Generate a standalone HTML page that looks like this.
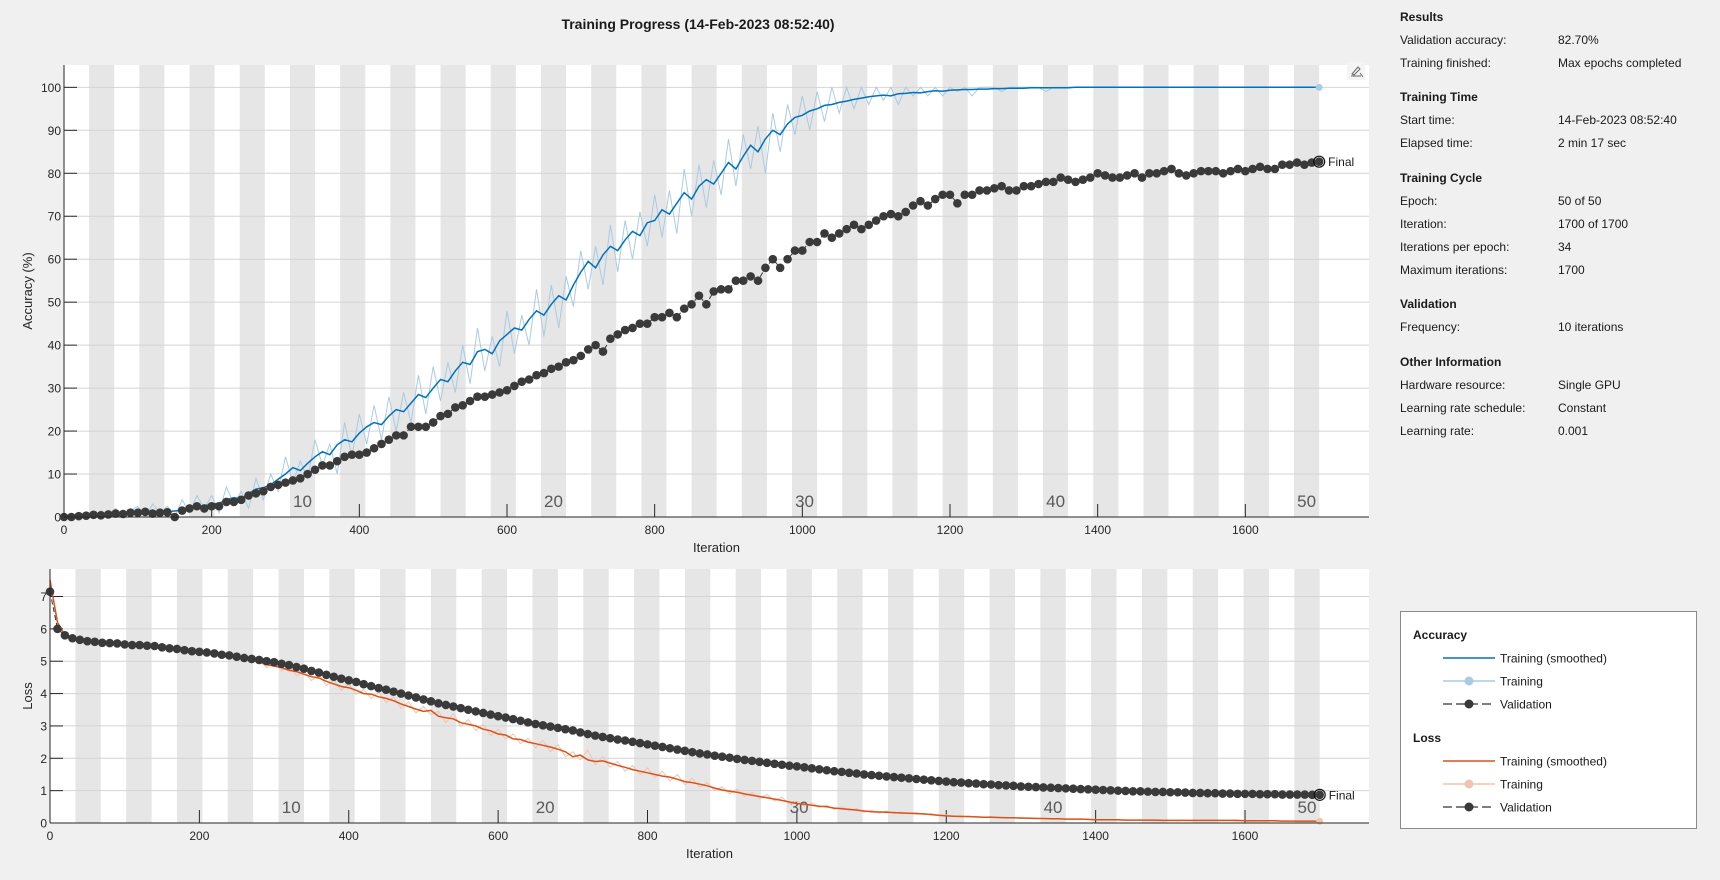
<!DOCTYPE html>
<html><head><meta charset="utf-8">
<style>
body{margin:0;background:#f0f0f0;width:1720px;height:880px;overflow:hidden;font-family:"Liberation Sans",Arial,sans-serif;}
svg{position:absolute;left:0;top:0}
</style></head>
<body>
<svg id="fig" width="1720" height="880" xmlns="http://www.w3.org/2000/svg"></svg>
<script>
// ---- data (sampled every 10 iterations, 0..1700) ----
const valIters = Array.from({length:171},(_,i)=>i*10);
const accSmoothed = [0.3,0.4,0.5,0.5,0.6,0.7,0.8,0.8,0.9,1.0,
1.1,1.0,1.2,1.3,1.2,1.4,1.6,2.0,2.3,2.6,
3.0,3.2,4.0,4.5,4.2,5.5,6.5,6.8,7.5,8.8,
10.0,11.5,10.8,12.5,14.0,15.2,14.5,16.8,18.0,17.5,
19.5,21.0,22.0,21.5,23.5,25.0,24.5,26.5,28.5,27.8,
30.0,32.0,31.5,34.0,36.0,35.5,38.5,39.0,38.0,41.0,
42.5,44.0,43.5,46.0,48.0,47.0,49.5,51.5,50.5,54.0,
57.0,59.5,58.0,61.0,63.0,62.0,64.5,66.5,65.5,68.5,
69.0,71.5,70.5,73.0,75.5,74.0,77.0,78.5,77.5,80.0,
82.5,81.0,84.0,86.5,85.0,88.0,90.0,89.0,91.5,93.0,
93.5,94.5,95.0,95.8,96.0,96.5,96.8,97.2,97.5,97.8,
98.0,98.2,98.0,98.5,98.6,98.8,98.7,99.0,99.2,99.1,
99.3,99.4,99.5,99.5,99.6,99.6,99.7,99.7,99.8,99.8,
99.8,99.9,99.9,99.9,99.9,99.9,99.9,100,100,100,
100,100,100,100,100,100,100,100,100,100,
100,100,100,100,100,100,100,100,100,100,
100,100,100,100,100,100,100,100,100,100,100];
const accRaw = [0,0.8,0,1.2,0,1.5,0.5,2,0,1.5,
2.5,0,3,1,2.5,0,4,1,5,2,
5,1,7,3,6,2,9,4,10,6,
14,8,13,9,18,12,17,10,22,14,
24,17,26,18,28,20,29,22,33,24,
35,27,36,29,40,31,44,34,42,35,
48,38,47,40,53,42,54,44,56,49,
62,53,63,54,68,57,69,60,71,63,
75,65,76,66,81,70,82,72,83,75,
88,77,89,81,91,80,94,85,96,89,
98,90,99,92,100,94,100,95,100,96,
100,97,100,96,100,98,100,98,100,98,
100,99,100,98,100,100,100,99,100,100,
100,100,100,99,100,100,100,100,100,100,
100,100,100,100,100,100,100,100,100,100,
100,100,100,100,100,100,100,100,100,100,
100,100,100,100,100,100,100,100,100,100,100];
const accValidation = [0,0,0.2,0.3,0.5,0.4,0.6,0.8,0.7,1,
1,1.2,0.8,1,1.1,0,1.5,2,2.5,2,
2.5,2.5,3.5,3.5,4,5,5.5,6,7,7.5,
8,8.5,9,10,11,12,12,13,14,14.5,
14.5,15,16,17,18,19,19,21,21,21,
22,23.5,24,25.5,26,27,28,28,28.5,29,
29.5,30.5,31.5,32,33,33.5,34.5,35,36,36.5,
37.5,39,40,38.5,41.5,42.5,43.5,44,45,45,
46.5,46.5,47.5,46.5,48.5,49.5,51.5,49.5,52.5,53,
53,55,55,56,55,58,60,58,60,62,
62,64,64,66,65,66,67,68,67,68,
69,70,70.5,70,71,72.5,73.5,72.5,74,75,
75,73,75,75,76,76,76.5,77,76,76,
77,77,77.5,78,78,79,78.5,78,78.5,79,
80,79.5,79,79,79.5,80,79,80,80,80.5,
81,80,79.5,80,80.5,80.5,80.5,80,80.5,81,
80.5,81,81.5,81,81,82,82,82.5,82,82.5,82.7];
const lossSmoothed = [7.5,6.2,5.8,5.68,5.62,5.6,5.57,5.55,5.54,5.52,
5.5,5.49,5.48,5.46,5.45,5.43,5.4,5.37,5.33,5.3,
5.28,5.25,5.22,5.19,5.16,5.12,5.08,5.04,4.98,4.9,
4.85,4.8,4.72,4.68,4.6,4.52,4.48,4.38,4.3,4.22,
4.18,4.1,4.0,3.98,3.9,3.85,3.78,3.68,3.6,3.52,
3.45,3.48,3.3,3.25,3.22,3.1,3.05,3.0,2.9,2.85,
2.75,2.72,2.6,2.58,2.5,2.45,2.4,2.35,2.28,2.2,
2.05,2.1,1.95,1.9,1.92,1.85,1.78,1.72,1.65,1.6,
1.55,1.5,1.45,1.42,1.35,1.28,1.25,1.2,1.15,1.08,
1.02,0.98,0.95,0.9,0.86,0.82,0.78,0.74,0.7,0.65,
0.6,0.58,0.55,0.52,0.5,0.46,0.44,0.42,0.4,0.37,
0.35,0.34,0.33,0.32,0.31,0.3,0.29,0.28,0.26,0.24,
0.22,0.21,0.2,0.2,0.19,0.18,0.18,0.17,0.16,0.16,
0.15,0.15,0.14,0.14,0.13,0.13,0.12,0.12,0.12,0.11,
0.1,0.1,0.1,0.1,0.09,0.09,0.09,0.09,0.09,0.08,
0.08,0.08,0.08,0.08,0.08,0.08,0.08,0.08,0.08,0.08,
0.07,0.07,0.07,0.07,0.07,0.06,0.06,0.06,0.06,0.06,0.05];
const lossRaw = [7.6,6.1,5.85,5.6,5.7,5.55,5.62,5.5,5.6,5.48,
5.55,5.42,5.52,5.4,5.5,5.38,5.45,5.3,5.38,5.25,
5.32,5.2,5.28,5.1,5.22,5.0,5.15,4.95,5.05,4.8,
4.95,4.7,4.85,4.55,4.7,4.4,4.6,4.25,4.42,4.1,
4.3,3.98,4.12,3.85,4.05,3.72,3.9,3.55,3.75,3.4,
3.6,3.35,3.45,3.1,3.38,2.98,3.2,2.85,3.05,2.7,
2.9,2.6,2.75,2.45,2.62,2.32,2.55,2.2,2.42,2.05,
2.2,1.95,2.25,1.8,2.05,1.72,1.9,1.6,1.78,1.5,
1.7,1.4,1.6,1.3,1.5,1.18,1.38,1.1,1.25,1.0,
1.12,0.9,1.05,0.82,0.95,0.75,0.88,0.68,0.8,0.58,
0.68,0.52,0.62,0.48,0.55,0.42,0.5,0.38,0.45,0.33,
0.4,0.31,0.37,0.3,0.34,0.28,0.32,0.26,0.29,0.22,
0.25,0.2,0.23,0.18,0.21,0.17,0.2,0.16,0.18,0.15,
0.17,0.14,0.15,0.13,0.14,0.12,0.13,0.11,0.13,0.1,
0.11,0.09,0.11,0.09,0.1,0.08,0.1,0.08,0.09,0.08,
0.09,0.07,0.09,0.07,0.08,0.07,0.08,0.07,0.08,0.06,
0.07,0.06,0.07,0.06,0.07,0.06,0.06,0.05,0.06,0.05,0.05];
const lossValidation = [7.15,6.0,5.8,5.71,5.66,5.62,5.6,5.57,5.56,5.55,
5.52,5.5,5.5,5.48,5.47,5.43,5.4,5.38,5.34,5.31,
5.29,5.27,5.24,5.2,5.18,5.14,5.1,5.07,5.04,5.0,
4.97,4.92,4.88,4.82,4.77,4.7,4.65,4.58,4.52,4.46,
4.41,4.36,4.29,4.23,4.17,4.12,4.06,4.0,3.94,3.88,
3.82,3.76,3.7,3.65,3.6,3.55,3.5,3.45,3.4,3.35,
3.3,3.26,3.21,3.16,3.11,3.06,3.02,2.98,2.94,2.9,
2.86,2.8,2.75,2.7,2.66,2.62,2.58,2.55,2.51,2.47,
2.43,2.39,2.35,2.31,2.27,2.23,2.19,2.15,2.12,2.08,
2.05,2.02,1.98,1.95,1.92,1.89,1.86,1.83,1.8,1.77,
1.75,1.72,1.69,1.66,1.63,1.6,1.58,1.55,1.53,1.5,
1.48,1.46,1.44,1.42,1.4,1.38,1.36,1.34,1.32,1.3,
1.28,1.26,1.25,1.23,1.22,1.2,1.19,1.17,1.16,1.15,
1.13,1.12,1.11,1.1,1.09,1.08,1.07,1.06,1.05,1.04,
1.03,1.02,1.01,1.0,0.99,0.98,0.98,0.97,0.96,0.96,
0.95,0.95,0.94,0.93,0.93,0.92,0.92,0.91,0.91,0.9,
0.9,0.9,0.89,0.89,0.89,0.88,0.88,0.88,0.88,0.87,0.87];
const xTicks = [0,200,400,600,800,1000,1200,1400,1600];
const accYTicks = [0,10,20,30,40,50,60,70,80,90,100];
const lossYTicks = [0,1,2,3,4,5,6,7];
const epochLabels = [10,20,30,40,50];
const itersPerEpoch = 34, numEpochs = 50;

const NS='http://www.w3.org/2000/svg';
const svg=document.getElementById('fig');
function el(tag,attrs,parent){const e=document.createElementNS(NS,tag);for(const k in attrs)e.setAttribute(k,attrs[k]);(parent||svg).appendChild(e);return e;}
function txt(s,attrs,parent){const t=el('text',attrs,parent);t.textContent=s;return t;}

function plot(cfg){
  const g=el('g',{});
  
  
  const X=v=>cfg.x0+(v-0)/(cfg.xmax)*(cfg.x1-cfg.x0);
  const Y=v=>cfg.y1-(v-cfg.ymin)/(cfg.ymax-cfg.ymin)*(cfg.y1-cfg.y0);
  const bg=el('rect',{x:cfg.x0,y:cfg.y0,width:cfg.x1-cfg.x0,height:cfg.y1-cfg.y0,fill:'#fff'},g);
  
  
  for(let e=2;e<=numEpochs;e+=2){
    const b=el('rect',{x:X((e-1)*itersPerEpoch),y:cfg.y0,width:X(e*itersPerEpoch)-X((e-1)*itersPerEpoch),height:cfg.y1-cfg.y0,fill:'#e6e6e6'},g);
    
    
  }
  cfg.yticks.forEach(v=>{
    const gl=el('line',{x1:cfg.x0,x2:cfg.x1,y1:Y(v),y2:Y(v),stroke:'#d4d4d4','stroke-width':1},g);
    
    
    el('line',{x1:cfg.x0,x2:cfg.x0+13,y1:Y(v),y2:Y(v),stroke:'#262626','stroke-width':1},g);
    const t=txt(String(v),{x:cfg.x0-3,y:Y(v)+4.5,'text-anchor':'end','font-size':12,fill:'#262626'},g);
    
    
  });
  xTicks.forEach(v=>{
    el('line',{x1:X(v),x2:X(v),y1:cfg.y1,y2:cfg.y1-13,stroke:'#262626','stroke-width':1},g);
    const t=txt(String(v),{x:X(v),y:cfg.y1+17,'text-anchor':'middle','font-size':12,fill:'#262626'},g);
    
    
  });
  epochLabels.forEach(ep=>{
    const t=txt(String(ep),{x:X((ep-0.5)*itersPerEpoch),y:cfg.y1-10,'text-anchor':'middle','font-size':17,fill:'#5a5a5a'},g);
    
    
  });
  const pts=a=>a.map((v,i)=>X(valIters[i]).toFixed(1)+','+Y(v).toFixed(1)).join(' ');
  const raw=el('polyline',{points:pts(cfg.raw),fill:'none',stroke:cfg.rawColor,'stroke-width':1},g);
  
  
  const sm=el('polyline',{points:pts(cfg.smooth),fill:'none',stroke:cfg.color,'stroke-width':1.5},g);
  
  
  const n=cfg.smooth.length-1;
  el('circle',{cx:X(valIters[n]),cy:Y(cfg.smooth[n]),r:3.5,fill:cfg.rawColor},g);
  const vl=el('polyline',{points:pts(cfg.val),fill:'none',stroke:'#333','stroke-width':1,'stroke-dasharray':'5,3'},g);
  
  
  cfg.val.forEach((v,i)=>{
    const c=el('circle',{cx:X(valIters[i]),cy:Y(v),r:4.3,fill:'#3a3a3a'},g);
    
    
  });
  const lx=X(valIters[n]),ly=Y(cfg.val[n]);
  el('circle',{cx:lx,cy:ly,r:5.5,fill:'none',stroke:'#111','stroke-width':1.2},g);
  const f=txt('Final',{x:lx+9,y:ly+4.5,'font-size':12,fill:'#1a1a1a'},g);
  
  
  el('line',{x1:cfg.x0,x2:cfg.x0,y1:cfg.y0,y2:cfg.y1,stroke:'#262626','stroke-width':1},g);
  el('line',{x1:cfg.x0,x2:cfg.x1,y1:cfg.y1,y2:cfg.y1,stroke:'#262626','stroke-width':1},g);
  const xl=txt('Iteration',{x:(cfg.x0+cfg.x1)/2,y:cfg.y1+35,'text-anchor':'middle','font-size':13,fill:'#262626'},g);
  
  
  const yc=(cfg.y0+cfg.y1)/2;
  const yl=txt(cfg.ylabel,{x:32,y:yc,'text-anchor':'middle','font-size':13,fill:'#262626',transform:`rotate(-90 32 ${yc})`},g);
  
  
}

plot({name:'accuracy-plot',x0:64,x1:1369,y0:65,y1:517,xmax:1767.5,ymin:0,ymax:105.2,yticks:accYTicks,
  smooth:accSmoothed,raw:accRaw,val:accValidation,color:'#0072bd',rawColor:'#a9cbe3',ylabel:'Accuracy (%)'});
plot({name:'loss-plot',x0:50,x1:1369,y0:569,y1:823,xmax:1766,ymin:0,ymax:7.85,yticks:lossYTicks,
  smooth:lossSmoothed,raw:lossRaw,val:lossValidation,color:'#d95319',rawColor:'#f1c4ae',ylabel:'Loss'});

// export icon
const ic=el('g',{transform:'translate(1347,62)'});


el('rect',{x:0,y:0,width:18,height:18,fill:'#f4f4f4'},ic);
el('path',{d:'M4 14 L14 14 M5 12 L11 5 L13 7 L7 13 Z M13 11 L16 15',stroke:'#666',fill:'none','stroke-width':1},ic);

const title=txt('Training Progress (14-Feb-2023 08:52:40)',{x:698,y:29,'text-anchor':'middle','font-size':14,'font-weight':'bold',fill:'#1a1a1a'});



// info panel
const info=[
 ['h','Results',16],['r','Validation accuracy:','82.70%',39],['r','Training finished:','Max epochs completed',62],
 ['h','Training Time',96],['r','Start time:','14-Feb-2023 08:52:40',119],['r','Elapsed time:','2 min 17 sec',142],
 ['h','Training Cycle',177],['r','Epoch:','50 of 50',200],['r','Iteration:','1700 of 1700',223],['r','Iterations per epoch:','34',246],['r','Maximum iterations:','1700',269],
 ['h','Validation',303],['r','Frequency:','10 iterations',326],
 ['h','Other Information',361],['r','Hardware resource:','Single GPU',384],['r','Learning rate schedule:','Constant',407],['r','Learning rate:','0.001',430]];
info.forEach(r=>{
  if(r[0]==='h'){const t=txt(r[1],{x:1400,y:r[2]+5,'font-size':12,'font-weight':'bold',fill:'#1a1a1a'});
    
    }
  else{const a=txt(r[1],{x:1400,y:r[3]+5,'font-size':12,fill:'#1a1a1a'});
    
    
    const b=txt(r[2],{x:1558,y:r[3]+5,'font-size':12,fill:'#1a1a1a'});
    
    }
});

// legend
const lg=el('g',{});


el('rect',{x:1400.5,y:611.5,width:296,height:217,fill:'#fff',stroke:'#8a8a8a','stroke-width':1},lg);
function legendGroup(title,y,color,light){
  const h=txt(title,{x:1413,y:y+5,'font-size':12,'font-weight':'bold',fill:'#1a1a1a'},lg);
  
  
  const y1=y+24,y2=y+47,y3=y+70;
  el('line',{x1:1443,x2:1495,y1:y1,y2:y1,stroke:color,'stroke-width':1.5},lg);
  el('line',{x1:1443,x2:1495,y1:y2,y2:y2,stroke:light,'stroke-width':1.5},lg);
  el('circle',{cx:1469,cy:y2,r:4.5,fill:light},lg);
  el('line',{x1:1443,x2:1495,y1:y3,y2:y3,stroke:'#555','stroke-width':1.5,'stroke-dasharray':'9,4'},lg);
  el('circle',{cx:1469,cy:y3,r:4.5,fill:'#3a3a3a'},lg);
  [['Training (smoothed)',y1],['Training',y2],['Validation',y3]].forEach(e=>{
    const t=txt(e[0],{x:1500,y:e[1]+4.5,'font-size':12,fill:'#1a1a1a'},lg);
    
    
  });
}
legendGroup('Accuracy',634,'#0072bd','#a9cbe3');
legendGroup('Loss',737,'#d95319','#f1c4ae');
</script>
</body></html>
